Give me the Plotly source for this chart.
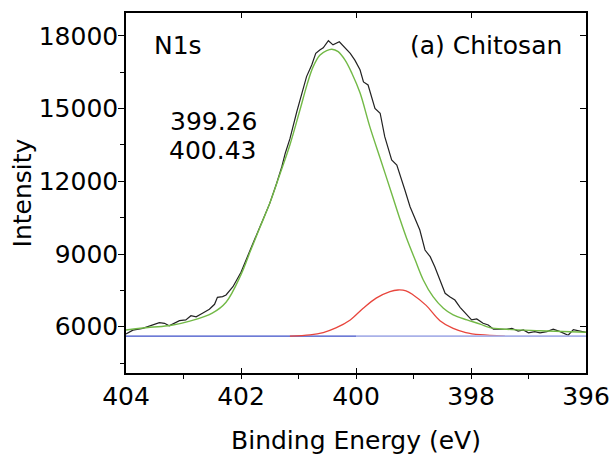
import plotly.graph_objects as go

# ---- data ----
# measured spectrum (black)
exp_energy = [404.00, 403.88, 403.71, 403.54, 403.42, 403.33, 403.25, 403.07, 402.96, 402.87,
              402.78, 402.67, 402.55, 402.46, 402.41, 402.32, 402.26, 402.14, 402.00, 401.84,
              401.67, 401.50, 401.38, 401.29, 401.23, 401.15, 401.03, 400.94, 400.86, 400.77,
              400.70, 400.63, 400.57, 400.48, 400.40, 400.29, 400.19, 400.10, 400.02, 399.93,
              399.87, 399.79, 399.67, 399.58, 399.50, 399.38, 399.29, 399.23, 399.15, 399.06,
              398.97, 398.89, 398.80, 398.71, 398.63, 398.54, 398.45, 398.37, 398.28, 398.19,
              398.07, 397.99, 397.90, 397.84, 397.79, 397.70, 397.61, 397.50, 397.38, 397.29,
              397.18, 397.09, 397.00, 396.89, 396.80, 396.68, 396.57, 396.45, 396.31, 396.22,
              396.10, 396.00]
exp_intensity = [5700, 5860, 5930, 6060, 6165, 6140, 6040, 6250, 6280, 6455,
                 6410, 6555, 6720, 6925, 7210, 7240, 7310, 7650, 8250, 9165,
                 10130, 11090, 11920, 12600, 13160, 13750, 14870, 15700, 16320, 16800,
                 17280, 17420, 17510, 17800, 17630, 17760, 17490, 17280, 17000, 16600,
                 16100, 15975, 15010, 14810, 13840, 12880, 12670, 12250, 11640, 10950,
                 10400, 9990, 9165, 8890, 8475, 7930, 7380, 7240, 7100, 6800,
                 6500, 6280, 6320, 6240, 6140, 6070, 5895, 5895, 5895, 5935,
                 5820, 5865, 5750, 5795, 5750, 5795, 5895, 5795, 5650, 5880,
                 5820, 5770]

# main fitted component, 400.43 eV (green)
fit1_energy = [404.00, 403.58, 403.23, 402.89, 402.50, 402.26, 402.00, 401.84, 401.67, 401.50,
               401.33, 401.15, 400.98, 400.85, 400.75, 400.63, 400.51, 400.42, 400.31, 400.19,
               400.07, 399.93, 399.76, 399.58, 399.38, 399.23, 399.12, 398.97, 398.83, 398.66,
               398.48, 398.31, 398.07, 397.84, 397.67, 397.38, 396.80, 396.00]
fit1_intensity = [5865, 5975, 6050, 6230, 6560, 7010, 8150, 9100, 10100, 11090,
                  12250, 13500, 14900, 16000, 16700, 17200, 17390, 17450, 17350, 17000,
                  16450, 15650, 14255, 12950, 11500, 10400, 9650, 8750, 7930, 7240,
                  6760, 6485, 6280, 6110, 5960, 5895, 5835, 5770]

# second fitted component, 399.26 eV (red)
fit2_energy = [401.15, 400.80, 400.57, 400.35, 400.10, 399.88, 399.65, 399.41, 399.27, 399.13,
               399.01, 398.78, 398.54, 398.31, 398.09, 397.84, 397.41]
fit2_intensity = [5610, 5660, 5760, 5950, 6280, 6750, 7180, 7450, 7515, 7480,
                  7320, 6880, 6250, 5930, 5760, 5670, 5610]

# background (blue)
base_energy_a = [404.0, 400.0]
base_energy_b = [400.0, 396.0]
base_intensity = [5610, 5610]

peak_labels = ["399.26", "400.43"]
x_ticks = [404, 402, 400, 398, 396]
y_ticks = [6000, 9000, 12000, 15000, 18000]

FONT = "DejaVu Sans"
FS = 25

fig = go.Figure()
fig.add_trace(go.Scatter(x=base_energy_a, y=base_intensity, mode="lines",
                         line=dict(color="#3d4fc8", width=1.2), showlegend=False))
# second half of the background is drawn on the mirrored (top/right) axes pair
fig.add_trace(go.Scatter(x=base_energy_b, y=base_intensity, mode="lines", xaxis="x2", yaxis="y2",
                         line=dict(color="#a9b1e8", width=1.6), showlegend=False))
fig.add_trace(go.Scatter(x=fit2_energy, y=fit2_intensity, mode="lines", line_shape="spline",
                         line=dict(color="#e8453c", width=1.3), showlegend=False))
fig.add_trace(go.Scatter(x=exp_energy, y=exp_intensity, mode="lines",
                         line=dict(color="#222222", width=1.2), showlegend=False))
fig.add_trace(go.Scatter(x=fit1_energy, y=fit1_intensity, mode="lines", line_shape="spline",
                         line=dict(color="#72b946", width=1.4), showlegend=False))

x_range = [404, 396]
y_range = [4090, 18945]

fig.update_layout(
    width=611, height=456,
    margin=dict(l=126, r=25, t=13, b=83),
    paper_bgcolor="white", plot_bgcolor="white",
    font=dict(family=FONT, size=FS, color="black"),
    showlegend=False,
    xaxis=dict(range=x_range, tickvals=x_ticks, ticktext=[str(v) for v in x_ticks],
               automargin=False, mirror=True,
               showgrid=False, zeroline=False, showline=True, linecolor="black", linewidth=1.5,
               ticks="inside", ticklen=5, tickwidth=1.3, tickcolor="black",
               minor=dict(ticks="outside", ticklen=4, dtick=1, tick0=396, tickwidth=1.3,
                          tickcolor="black", showgrid=False),
               ticklabelstandoff=0,
               title=dict(text="Binding Energy (eV)", standoff=22,
                          font=dict(family=FONT, size=FS))),
    yaxis=dict(range=y_range, tickvals=y_ticks, ticktext=[str(v) for v in y_ticks],
               automargin=False, mirror=True,
               showgrid=False, zeroline=False, showline=True, linecolor="black", linewidth=1.5,
               ticks="outside", ticklen=6, tickwidth=1.3, tickcolor="black",
               minor=dict(ticks="outside", ticklen=4, dtick=1500, tick0=0, tickwidth=1.3,
                          tickcolor="black", showgrid=False),
               ticklabelstandoff=-5,
               title=dict(text="Intensity", standoff=0, font=dict(family=FONT, size=FS))),
    xaxis2=dict(range=x_range, overlaying="x", side="top", anchor="y", tickvals=x_ticks,
                automargin=False,
                showticklabels=False, showgrid=False, zeroline=False, showline=True,
                linecolor="black", linewidth=1.5, ticks="inside", ticklen=5, tickwidth=1.3,
                tickcolor="black"),
    yaxis2=dict(range=y_range, overlaying="y", side="right", anchor="x", tickvals=y_ticks,
                automargin=False,
                showticklabels=False, showgrid=False, zeroline=False, showline=True,
                linecolor="black", linewidth=1.5, ticks="inside", ticklen=6, tickwidth=1.3,
                tickcolor="black"),
)

fig.add_annotation(xref="paper", yref="paper", x=0.056, y=0.91, text="N1s",
                   showarrow=False, xanchor="left", yanchor="middle",
                   font=dict(family=FONT, size=FS, color="black"))
fig.add_annotation(xref="paper", yref="paper", x=0.952, y=0.91, text="(a) Chitosan",
                   showarrow=False, xanchor="right", yanchor="middle",
                   font=dict(family=FONT, size=FS, color="black"))
fig.add_annotation(xref="paper", yref="paper", x=0.092, y=0.700, text=peak_labels[0],
                   showarrow=False, xanchor="left", yanchor="middle",
                   font=dict(family=FONT, size=FS, color="black"))
fig.add_annotation(xref="paper", yref="paper", x=0.090, y=0.617, text=peak_labels[1],
                   showarrow=False, xanchor="left", yanchor="middle",
                   font=dict(family=FONT, size=FS, color="black"))

fig.write_html("out.html", config={"displayModeBar": False},
               post_script="document.body.style.margin='0';")
